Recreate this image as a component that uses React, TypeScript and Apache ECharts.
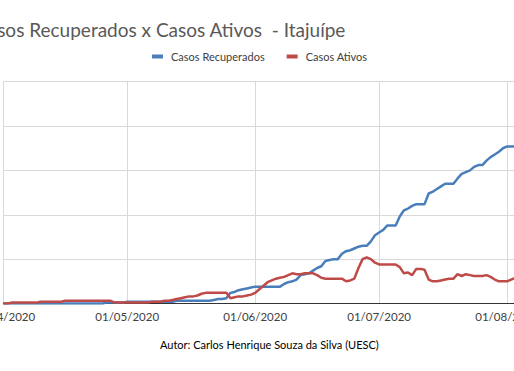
import React, { useEffect, useRef } from "react";
import * as echarts from "echarts";

// Daily series starting 01/04/2020
const START_YEAR = 2020;
const START_MONTH = 4; // April
const START_DAY = 1;

const recuperados = [
  0, 0, 0, 0, 0, 0, 0, 0, 0, 0,
  0, 0, 0, 0, 0, 0, 0, 0, 0, 0,
  0, 0, 0, 0, 0, 1, 1, 1, 1, 1,
  2, 2, 2, 2, 2, 2, 2, 2, 2, 2,
  2, 2, 3, 3, 3, 3, 3, 3, 3, 3,
  3, 4, 5, 5, 6, 12, 13, 15, 16, 17,
  18, 19, 19, 19, 19, 19, 19, 19, 22, 24,
  25, 27, 32, 33, 34, 37, 40, 42, 48, 49,
  50, 50, 56, 59, 60, 62, 64, 65, 65, 70,
  77, 80, 83, 88, 88, 88, 98, 105, 107, 110,
  112, 112, 112, 124, 126, 129, 132, 135, 135, 135,
  141, 146, 148, 150, 154, 156, 156, 161, 165, 168,
  171, 175, 177, 177, 177,
];

const ativos = [
  0, 0, 1, 1, 1, 1, 1, 1, 1, 2,
  2, 2, 2, 2, 2, 3, 3, 3, 3, 3,
  3, 3, 3, 3, 3, 3, 3, 1, 1, 1,
  1, 1, 1, 1, 1, 1, 2, 2, 2, 3,
  3, 4, 5, 6, 7, 8, 8, 9, 11, 12,
  12, 12, 12, 12, 12, 6, 7, 8, 8, 9,
  10, 12, 16, 20, 24, 26, 28, 29, 30, 32,
  34, 33, 33, 34, 34, 34, 32, 29, 28, 28,
  28, 28, 28, 25, 26, 28, 40, 50, 52, 50,
  46, 44, 44, 44, 44, 44, 41, 34, 35, 32,
  39, 39, 38, 27, 25, 25, 26, 27, 28, 28,
  33, 31, 33, 32, 31, 31, 31, 32, 30, 27,
  25, 25, 25, 27, 29,
];

const seriesNames = ["Casos Recuperados", "Casos Ativos"];
const titleText = "Casos Recuperados x Casos Ativos  - Itajuípe";
const authorText = "Autor: Carlos Henrique Souza da Silva (UESC)";

const pad = (n: number) => (n < 10 ? "0" + n : "" + n);
const dates: string[] = recuperados.map((_, i) => {
  const d = new Date(Date.UTC(START_YEAR, START_MONTH - 1, START_DAY + i));
  return `${pad(d.getUTCDate())}/${pad(d.getUTCMonth() + 1)}/${d.getUTCFullYear()}`;
});

const isMonthStart = (index: number) => !!dates[index] && dates[index].startsWith("01/");

const FONT = "Lato, 'Open Sans', sans-serif";

export default function App() {
  const ref = useRef<HTMLDivElement>(null);
  useEffect(() => {
    if (!ref.current) return;
    const chart = echarts.init(ref.current, undefined, { renderer: "svg" });
    chart.setOption({
      animation: false,
      backgroundColor: "#ffffff",
      textStyle: { fontFamily: FONT },
      graphic: [
        {
          type: "text",
          left: -25,
          top: 20,
          style: {
            text: titleText,
            fontSize: 19,
            fontFamily: FONT,
            fill: "#595959",
          },
        },
        {
          type: "text",
          left: 160,
          top: 339,
          style: {
            text: authorText,
            fontSize: 11,
            fontFamily: FONT,
            fill: "#000000",
          },
        },
      ],
      legend: {
        data: seriesNames,
        left: 152,
        top: 51,
        padding: 0,
        icon: "rect",
        itemWidth: 11,
        itemHeight: 4,
        itemGap: 22,
        textStyle: { fontSize: 11, color: "#404040", fontFamily: FONT, padding: [0, 0, 0, 3] },
      },
      grid: {
        left: 3.3,
        right: -1.4,
        top: 81.7,
        bottom: 67.5,
        containLabel: false,
        outerBoundsMode: "none",
      },
      xAxis: {
        type: "category",
        boundaryGap: false,
        data: dates,
        axisLine: { lineStyle: { color: "#333333", width: 1 } },
        axisTick: { show: false },
        axisLabel: {
          interval: (index: number) => isMonthStart(index),
          color: "#404040",
          fontSize: 11.5,
          fontFamily: FONT,
          margin: 7,
          hideOverlap: false,
        },
        splitLine: {
          show: true,
          interval: (index: number) => isMonthStart(index),
          lineStyle: { color: "#d9d9d9", width: 1 },
        },
      },
      yAxis: {
        type: "value",
        min: 0,
        max: 250,
        interval: 50,
        axisLabel: { show: false },
        axisLine: { show: false },
        axisTick: { show: false },
        splitLine: { lineStyle: { color: "#d9d9d9", width: 1 } },
      },
      series: [
        {
          name: seriesNames[0],
          type: "line",
          data: recuperados,
          showSymbol: false,
          symbol: "none",
          itemStyle: { color: "#4A7EBB" },
          lineStyle: { color: "#4A7EBB", width: 2.5 },
        },
        {
          name: seriesNames[1],
          type: "line",
          data: ativos,
          showSymbol: false,
          symbol: "none",
          itemStyle: { color: "#BE4B48" },
          lineStyle: { color: "#BE4B48", width: 2.5 },
        },
      ],
    });
    return () => chart.dispose();
  }, []);
  return (
    <div
      ref={ref}
      style={{ position: "absolute", left: 0, top: 0, width: 514, height: 371, background: "#fff" }}
    />
  );
}
